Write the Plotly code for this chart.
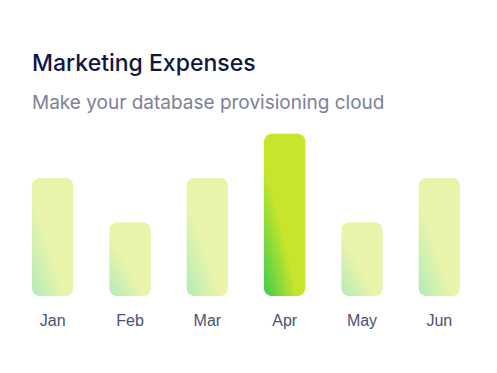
import numpy as np
import plotly.graph_objects as go

# ---- data ----
months = ["Jan", "Feb", "Mar", "Apr", "May", "Jun"]
expenses = [80, 50, 80, 110, 50, 80]
highlight_month = "Apr"
title_text = "Marketing Expenses"
subtitle_text = "Make your database provisioning cloud"

# ---- style / geometry ----
FIG_W, FIG_H = 497, 373
MARGIN = dict(l=14, r=19, t=119, b=77)
X_RANGE = [-0.5, len(months) - 0.5]
Y_RANGE = [0, 120]
plot_w = FIG_W - MARGIN["l"] - MARGIN["r"]
plot_h = FIG_H - MARGIN["t"] - MARGIN["b"]
px_per_x = plot_w / (X_RANGE[1] - X_RANGE[0])
px_per_y = plot_h / (Y_RANGE[1] - Y_RANGE[0])
BAR_W = 0.535          # fraction of a category slot
RADIUS_PX = 8
GREEN = "#3ccd4f"
LIME = "#c8e52b"
ALPHA = 4.0            # distance factor for the (near-linear) diagonal gradient


def rounded_bar(xc, val):
    x0, x1 = xc - BAR_W / 2, xc + BAR_W / 2
    y0, y1 = Y_RANGE[0], val
    rx, ry = RADIUS_PX / px_per_x, RADIUS_PX / px_per_y

    def arc(cx, cy, a0, a1):
        t = np.linspace(a0, a1, 10)
        return list(cx + rx * np.cos(t)), list(cy + ry * np.sin(t))

    bw, bh = x1 - x0, y1 - y0
    cx, cy = x0 - ALPHA * bw, y0 - ALPHA * bh
    a = np.sqrt(2) * (1 + ALPHA) * bw
    b = np.sqrt(2) * (1 + ALPHA) * bh
    s1 = (cx - a, cy - b)
    s2 = (cx + a, cy + b)

    xs, ys = [], []
    blx, bly = arc(x0 + rx, y0 + ry, np.pi, 1.5 * np.pi)
    brx, bry = arc(x1 - rx, y0 + ry, 1.5 * np.pi, 2 * np.pi)
    trx, try_ = arc(x1 - rx, y1 - ry, 0, 0.5 * np.pi)
    tlx, tly = arc(x0 + rx, y1 - ry, 0.5 * np.pi, np.pi)
    # bottom-left / top-right arcs carry zero-area spikes (set the gradient box)
    xs += blx[:5] + [s1[0]] + blx[4:]
    ys += bly[:5] + [s1[1]] + bly[4:]
    xs += brx
    ys += bry
    xs += trx[:5] + [s2[0]] + trx[4:]
    ys += try_[:5] + [s2[1]] + try_[4:]
    xs += tlx + [blx[0]]
    ys += tly + [bly[0]]
    return xs, ys


fig = go.Figure()
for i, (m, v) in enumerate(zip(months, expenses)):
    xs, ys = rounded_bar(i, v)
    fig.add_trace(go.Scatter(
        x=xs, y=ys, mode="lines", fill="toself",
        line=dict(width=0, simplify=False, color=LIME),
        fillgradient=dict(
            type="radial",
            colorscale=[[0, GREEN], [0.8, GREEN], [0.885, LIME], [1, LIME]],
        ),
        opacity=1.0 if m == highlight_month else 0.4,
        hoverinfo="skip", showlegend=False, name=m,
    ))


def px_to_paper_x(px):
    return (px - MARGIN["l"]) / plot_w


def px_to_paper_y(py):
    return (FIG_H - MARGIN["b"] - py) / plot_h


fig.add_annotation(
    text=title_text, xref="paper", yref="paper",
    x=px_to_paper_x(30), y=px_to_paper_y(63), xanchor="left", yanchor="middle",
    showarrow=False,
    font=dict(family="Inter", size=23, color="#0f1642", weight=500),
)
fig.add_annotation(
    text=subtitle_text, xref="paper", yref="paper",
    x=px_to_paper_x(30), y=px_to_paper_y(102), xanchor="left", yanchor="middle",
    showarrow=False,
    font=dict(family="Inter", size=19, color="#7d8199"),
)

fig.update_xaxes(
    range=X_RANGE, tickvals=list(range(len(months))), ticktext=months,
    showgrid=False, zeroline=False, showline=False, ticks="",
    ticklabelstandoff=13,
    tickfont=dict(family="Liberation Sans", size=16, color="#4a5272"),
    fixedrange=True,
)
fig.update_yaxes(range=Y_RANGE, visible=False, fixedrange=True)
fig.update_layout(
    width=FIG_W, height=FIG_H, margin=MARGIN,
    paper_bgcolor="white", plot_bgcolor="white",
)
fig.write_html("out.html")
